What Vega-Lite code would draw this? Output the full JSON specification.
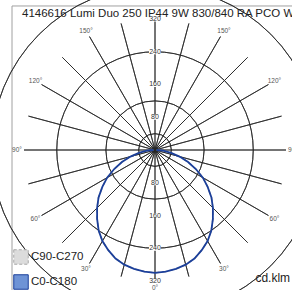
{
  "$schema": "https://vega.github.io/schema/vega-lite/v6.json",
  "width": 292,
  "height": 290,
  "padding": 0,
  "autosize": {"type": "none"},
  "background": "white",
  "config": {"view": {"stroke": null}, "font": "Liberation Sans"},
  "datasets": {
    "rings": [{"r": 40}, {"r": 80}, {"r": 120}, {"r": 160}, {"r": 200}, {"r": 240}, {"r": 280}, {"r": 320}],
    "spokes": [{"a": -165}, {"a": -150}, {"a": -135}, {"a": -120}, {"a": -105}, {"a": -90}, {"a": -75}, {"a": -60}, {"a": -45}, {"a": -30}, {"a": -15}, {"a": 0}, {"a": 15}, {"a": 30}, {"a": 45}, {"a": 60}, {"a": 75}, {"a": 90}, {"a": 105}, {"a": 120}, {"a": 135}, {"a": 150}, {"a": 165}, {"a": 180}],
    "vlabels": [{"v": 80, "dir": -1}, {"v": 160, "dir": -1}, {"v": 240, "dir": -1}, {"v": 320, "dir": -1}, {"v": 80, "dir": 1}, {"v": 160, "dir": 1}, {"v": 240, "dir": 1}, {"v": 320, "dir": 1}],
    "alabels": [{"t": "150°", "a": 150}, {"t": "120°", "a": 120}, {"t": "90°", "a": 90}, {"t": "60°", "a": 60}, {"t": "30°", "a": 30}, {"t": "0°", "a": 0}, {"t": "30°", "a": -30}, {"t": "60°", "a": -60}, {"t": "90°", "a": -90}, {"t": "120°", "a": -120}, {"t": "150°", "a": -150}],
    "curves": [
      {"series": "C90-C270", "a": -90, "I": 4}, {"series": "C90-C270", "a": -85, "I": 20}, {"series": "C90-C270", "a": -80, "I": 40}, {"series": "C90-C270", "a": -75, "I": 62}, {"series": "C90-C270", "a": -70, "I": 86}, {"series": "C90-C270", "a": -65, "I": 110}, {"series": "C90-C270", "a": -60, "I": 135}, {"series": "C90-C270", "a": -55, "I": 157}, {"series": "C90-C270", "a": -50, "I": 180}, {"series": "C90-C270", "a": -45, "I": 200}, {"series": "C90-C270", "a": -40, "I": 220}, {"series": "C90-C270", "a": -35, "I": 240}, {"series": "C90-C270", "a": -30, "I": 257}, {"series": "C90-C270", "a": -25, "I": 270}, {"series": "C90-C270", "a": -20, "I": 282}, {"series": "C90-C270", "a": -15, "I": 290}, {"series": "C90-C270", "a": -10, "I": 295}, {"series": "C90-C270", "a": -5, "I": 298}, {"series": "C90-C270", "a": 0, "I": 300}, {"series": "C90-C270", "a": 5, "I": 298}, {"series": "C90-C270", "a": 10, "I": 295}, {"series": "C90-C270", "a": 15, "I": 290}, {"series": "C90-C270", "a": 20, "I": 282}, {"series": "C90-C270", "a": 25, "I": 270}, {"series": "C90-C270", "a": 30, "I": 257}, {"series": "C90-C270", "a": 35, "I": 240}, {"series": "C90-C270", "a": 40, "I": 220}, {"series": "C90-C270", "a": 45, "I": 200}, {"series": "C90-C270", "a": 50, "I": 180}, {"series": "C90-C270", "a": 55, "I": 157}, {"series": "C90-C270", "a": 60, "I": 135}, {"series": "C90-C270", "a": 65, "I": 110}, {"series": "C90-C270", "a": 70, "I": 86}, {"series": "C90-C270", "a": 75, "I": 62}, {"series": "C90-C270", "a": 80, "I": 40}, {"series": "C90-C270", "a": 85, "I": 20}, {"series": "C90-C270", "a": 90, "I": 4},
      {"series": "C0-C180", "a": -90, "I": 4}, {"series": "C0-C180", "a": -85, "I": 20}, {"series": "C0-C180", "a": -80, "I": 40}, {"series": "C0-C180", "a": -75, "I": 62}, {"series": "C0-C180", "a": -70, "I": 86}, {"series": "C0-C180", "a": -65, "I": 110}, {"series": "C0-C180", "a": -60, "I": 135}, {"series": "C0-C180", "a": -55, "I": 157}, {"series": "C0-C180", "a": -50, "I": 180}, {"series": "C0-C180", "a": -45, "I": 200}, {"series": "C0-C180", "a": -40, "I": 220}, {"series": "C0-C180", "a": -35, "I": 240}, {"series": "C0-C180", "a": -30, "I": 257}, {"series": "C0-C180", "a": -25, "I": 270}, {"series": "C0-C180", "a": -20, "I": 282}, {"series": "C0-C180", "a": -15, "I": 290}, {"series": "C0-C180", "a": -10, "I": 295}, {"series": "C0-C180", "a": -5, "I": 298}, {"series": "C0-C180", "a": 0, "I": 300}, {"series": "C0-C180", "a": 5, "I": 298}, {"series": "C0-C180", "a": 10, "I": 295}, {"series": "C0-C180", "a": 15, "I": 290}, {"series": "C0-C180", "a": 20, "I": 282}, {"series": "C0-C180", "a": 25, "I": 270}, {"series": "C0-C180", "a": 30, "I": 257}, {"series": "C0-C180", "a": 35, "I": 240}, {"series": "C0-C180", "a": 40, "I": 220}, {"series": "C0-C180", "a": 45, "I": 200}, {"series": "C0-C180", "a": 50, "I": 180}, {"series": "C0-C180", "a": 55, "I": 157}, {"series": "C0-C180", "a": 60, "I": 135}, {"series": "C0-C180", "a": 65, "I": 110}, {"series": "C0-C180", "a": 70, "I": 86}, {"series": "C0-C180", "a": 75, "I": 62}, {"series": "C0-C180", "a": 80, "I": 40}, {"series": "C0-C180", "a": 85, "I": 20}, {"series": "C0-C180", "a": 90, "I": 4}
    ],
    "texts": [{"t": "4146616 Lumi Duo 250 IP44 9W 830/840 RA PCO W", "x": -324.9, "y": 323.7, "kind": "title"}, {"t": "cd.klm", "x": 330, "y": -322, "kind": "unit"}],
    "frame": [{"x": -349.3, "x2": -349.3, "y": 351.8, "y2": -341.98}, {"x": -349.3, "x2": 334.66, "y": 351.8, "y2": 351.8}]
  },
  "layer": [
    {
      "data": {"name": "frame"},
      "mark": {"type": "rule", "stroke": "#a0a0a0", "strokeWidth": 1},
      "encoding": {
        "x": {"field": "x", "type": "quantitative", "scale": {"domain": [-378.63, 334.66], "nice": false, "zero": false}, "axis": null},
        "x2": {"field": "x2"},
        "y": {"field": "y", "type": "quantitative", "scale": {"domain": [-341.98, 366.41], "nice": false, "zero": false}, "axis": null},
        "y2": {"field": "y2"}
      }
    },
    {
      "data": {"name": "rings"},
      "mark": {"type": "arc", "filled": false, "stroke": "#262626", "strokeWidth": 0.8, "theta": 0, "theta2": 6.2832, "radius2": 0},
      "encoding": {
        "x": {"datum": 0, "type": "quantitative", "scale": {"domain": [-378.63, 334.66], "nice": false, "zero": false}, "axis": null},
        "y": {"datum": 0, "type": "quantitative", "scale": {"domain": [-341.98, 366.41], "nice": false, "zero": false}, "axis": null},
        "radius": {"field": "r", "type": "quantitative", "scale": {"type": "linear", "domain": [0, 320], "range": [0, 131], "zero": true}}
      }
    },
    {
      "data": {"name": "spokes"},
      "mark": {"type": "arc", "filled": false, "stroke": "#262626", "strokeWidth": 0.8},
      "encoding": {
        "x": {"datum": 0, "type": "quantitative", "scale": {"domain": [-378.63, 334.66], "nice": false, "zero": false}, "axis": null},
        "y": {"datum": 0, "type": "quantitative", "scale": {"domain": [-341.98, 366.41], "nice": false, "zero": false}, "axis": null},
        "theta": {"field": "a", "type": "quantitative", "stack": null, "scale": {"domain": [-180, 180], "range": [0, 6.283185], "zero": false, "nice": false}},
        "theta2": {"field": "a"},
        "radius": {"datum": 320, "type": "quantitative", "scale": {"type": "linear", "domain": [0, 320], "range": [0, 131], "zero": true}},
        "radius2": {"datum": 0}
      }
    },
    {
      "data": {"name": "vlabels"},
      "transform": [{"calculate": "datum.v * datum.dir", "as": "y"}],
      "mark": {"type": "point", "shape": "M -1 -0.42 L 1 -0.42 L 1 0.42 L -1 0.42 Z", "filled": true, "fill": "white", "opacity": 1, "size": 144, "strokeWidth": 0},
      "encoding": {
        "x": {"datum": 0, "type": "quantitative", "scale": {"domain": [-378.63, 334.66], "nice": false, "zero": false}, "axis": null},
        "y": {"field": "y", "type": "quantitative", "scale": {"domain": [-341.98, 366.41], "nice": false, "zero": false}, "axis": null}
      }
    },
    {
      "data": {"name": "vlabels"},
      "transform": [{"calculate": "datum.v * datum.dir", "as": "y"}],
      "mark": {"type": "text", "fontSize": 7, "color": "#333333", "align": "center", "baseline": "middle"},
      "encoding": {
        "x": {"datum": 0, "type": "quantitative", "scale": {"domain": [-378.63, 334.66], "nice": false, "zero": false}, "axis": null},
        "y": {"field": "y", "type": "quantitative", "scale": {"domain": [-341.98, 366.41], "nice": false, "zero": false}, "axis": null},
        "text": {"field": "v", "type": "quantitative"}
      }
    },
    {
      "data": {"name": "alabels"},
      "mark": {"type": "text", "fontSize": 6.5, "color": "#555555", "align": "center", "baseline": "middle"},
      "encoding": {
        "x": {"datum": 0, "type": "quantitative", "scale": {"domain": [-378.63, 334.66], "nice": false, "zero": false}, "axis": null},
        "y": {"datum": 0, "type": "quantitative", "scale": {"domain": [-341.98, 366.41], "nice": false, "zero": false}, "axis": null},
        "theta": {"field": "a", "type": "quantitative", "stack": null, "scale": {"domain": [-180, 180], "range": [0, 6.283185], "zero": false, "nice": false}},
        "radius": {"datum": 337, "type": "quantitative", "scale": {"type": "linear", "domain": [0, 320], "range": [0, 131], "zero": true}},
        "text": {"field": "t"}
      }
    },
    {
      "data": {"name": "curves"},
      "transform": [
        {"filter": "datum.series === 'C90-C270'"},
        {"calculate": "-datum.I * sin(datum.a * PI / 180)", "as": "px"},
        {"calculate": "-datum.I * cos(datum.a * PI / 180)", "as": "py"}
      ],
      "mark": {"type": "line", "strokeWidth": 1.5, "strokeDash": [4, 3]},
      "encoding": {
        "x": {"field": "px", "type": "quantitative", "scale": {"domain": [-378.63, 334.66], "nice": false, "zero": false}, "axis": null},
        "y": {"field": "py", "type": "quantitative", "scale": {"domain": [-341.98, 366.41], "nice": false, "zero": false}, "axis": null},
        "order": {"field": "a", "type": "quantitative"},
        "color": {"field": "series", "type": "nominal", "scale": {"domain": ["C90-C270", "C0-C180"], "range": ["#a8a8a8", "#1b3f9a"]}, "legend": {"title": null, "orient": "none", "legendX": 13, "legendY": 249, "symbolType": "square", "symbolSize": 210, "symbolStrokeWidth": 1, "labelFontSize": 11.5, "labelColor": "#222222", "labelFont": "Liberation Sans", "rowPadding": 5, "labelOffset": 2, "encode": {"symbols": {"update": {"fill": {"signal": "datum.value === 'C0-C180' ? '#6e93d6' : '#dcdcdc'"}, "fillOpacity": {"value": 1}, "strokeDash": {"signal": "datum.value === 'C0-C180' ? [] : [3, 2]"}}}}}}
      }
    },
    {
      "data": {"name": "curves"},
      "transform": [
        {"filter": "datum.series === 'C0-C180'"},
        {"calculate": "-datum.I * sin(datum.a * PI / 180)", "as": "px"},
        {"calculate": "-datum.I * cos(datum.a * PI / 180)", "as": "py"}
      ],
      "mark": {"type": "line", "strokeWidth": 1.8},
      "encoding": {
        "x": {"field": "px", "type": "quantitative", "scale": {"domain": [-378.63, 334.66], "nice": false, "zero": false}, "axis": null},
        "y": {"field": "py", "type": "quantitative", "scale": {"domain": [-341.98, 366.41], "nice": false, "zero": false}, "axis": null},
        "order": {"field": "a", "type": "quantitative"},
        "color": {"field": "series", "type": "nominal", "scale": {"domain": ["C90-C270", "C0-C180"], "range": ["#a8a8a8", "#1b3f9a"]}}
      }
    },
    {
      "data": {"name": "texts"},
      "transform": [{"filter": "datum.kind === 'title'"}],
      "mark": {"type": "text", "fontSize": 11.5, "color": "#222222", "align": "left", "baseline": "alphabetic"},
      "encoding": {
        "x": {"field": "x", "type": "quantitative", "scale": {"domain": [-378.63, 334.66], "nice": false, "zero": false}, "axis": null},
        "y": {"field": "y", "type": "quantitative", "scale": {"domain": [-341.98, 366.41], "nice": false, "zero": false}, "axis": null},
        "text": {"field": "t"}
      }
    },
    {
      "data": {"name": "texts"},
      "transform": [{"filter": "datum.kind === 'unit'"}],
      "mark": {"type": "text", "fontSize": 12, "color": "#222222", "align": "right", "baseline": "alphabetic"},
      "encoding": {
        "x": {"field": "x", "type": "quantitative", "scale": {"domain": [-378.63, 334.66], "nice": false, "zero": false}, "axis": null},
        "y": {"field": "y", "type": "quantitative", "scale": {"domain": [-341.98, 366.41], "nice": false, "zero": false}, "axis": null},
        "text": {"field": "t"}
      }
    }
  ]
}
